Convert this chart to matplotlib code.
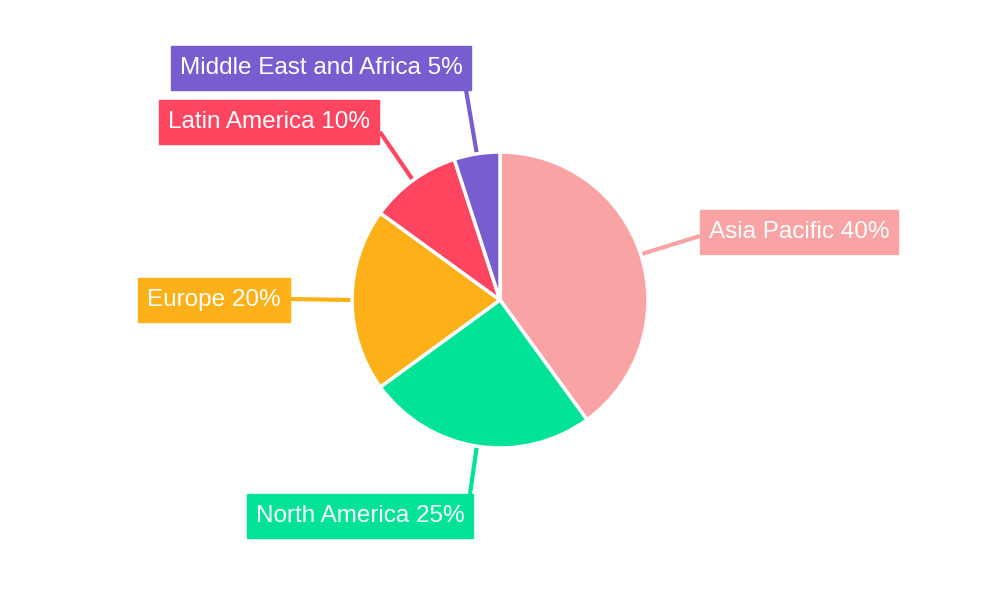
import numpy as np
import matplotlib
matplotlib.use("Agg")
import matplotlib.pyplot as plt
from matplotlib.patches import Rectangle

labels = ["Asia Pacific", "North America", "Europe", "Latin America", "Middle East and Africa"]
values = [40, 25, 20, 10, 5]
colors = ["#F9A3A4", "#00E396", "#FEB019", "#FF4560", "#775DD0"]
# label text centre (pixel coords, y down) and leader end on box
label_pos = [(799, 232), (360, 516), (214, 300), (269, 122), (321, 68)]
box_anchor = [(700, 236), (470, 494), (290, 299), (380, 132), (466, 90)]

plt.rcParams['font.family'] = ['Liberation Sans', 'DejaVu Sans']
fig = plt.figure(figsize=(10, 6), dpi=100)
ax = fig.add_axes([0, 0, 1, 1])
ax.set_xlim(0, 1000); ax.set_ylim(600, 0)
ax.axis('off')

cx, cy, R = 500, 300, 148
# pie in a y-up axes overlay
ax2 = fig.add_axes([0, 0, 1, 1])
ax2.set_xlim(0, 1000); ax2.set_ylim(0, 600); ax2.axis('off')
ax2.pie(values, colors=colors, startangle=90, counterclock=False, center=(cx, 600 - cy),
        radius=R, wedgeprops=dict(edgecolor='white', linewidth=2.5), frame=True)
ax2.set_xlim(0, 1000); ax2.set_ylim(0, 600); ax2.axis('off')
ax2.set_aspect('auto')

fig.canvas.draw()
renderer = fig.canvas.get_renderer()
cum = 0
total = sum(values)
for lab, v, c, (tx, ty), (bx, by) in zip(labels, values, colors, label_pos, box_anchor):
    mid = cum + v / 2
    cum += v
    ang = np.deg2rad(90 - 360 * mid / total)
    px, py = cx + R * np.cos(ang), cy - R * np.sin(ang)
    ax.plot([px, bx], [py, by], color=c, lw=3, solid_capstyle='butt', zorder=1)
    t = ax.text(tx, ty, f"{lab} {v}%", color='white', fontsize=17.5, ha='center', va='center', zorder=4)
    bb = t.get_window_extent(renderer)
    w = bb.width + 18
    ax.add_patch(Rectangle((tx - w / 2, ty - 22), w, 44, color=c, zorder=3))

fig.savefig("out.png", dpi=100, facecolor='white')
